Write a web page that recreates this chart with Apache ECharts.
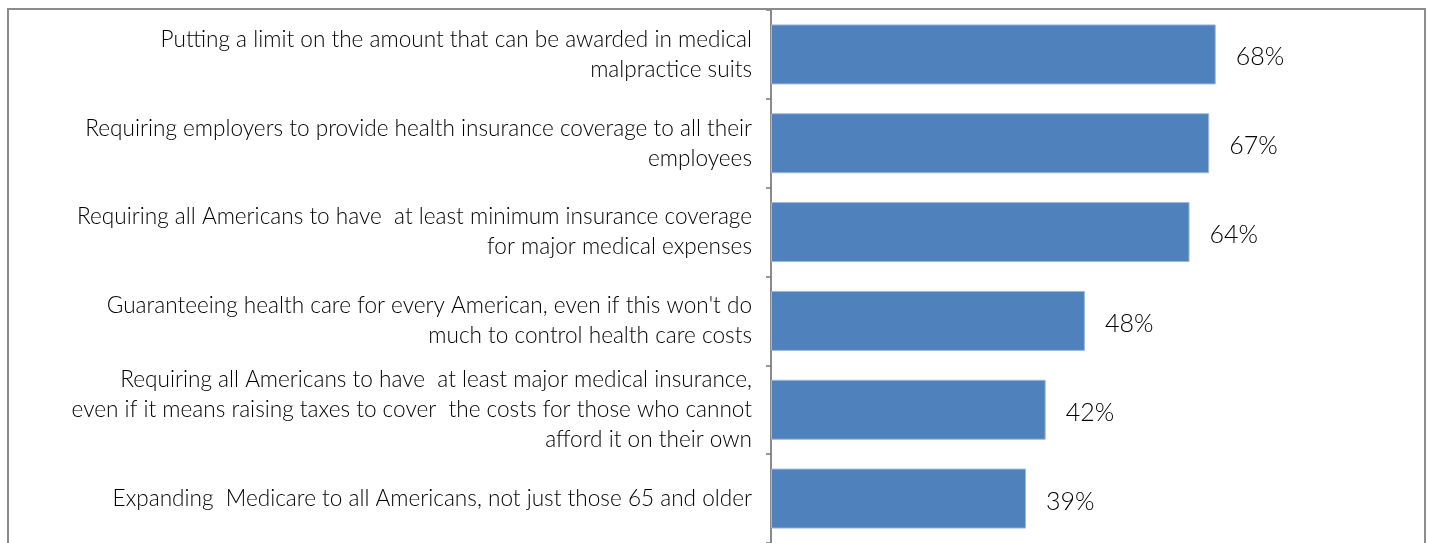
<!DOCTYPE html>
<html>
<head>
<meta charset="utf-8">
<style>
html,body{margin:0;padding:0;background:#fff;}
#chart{width:1432px;height:543px;}
</style>
<script src="https://cdn.jsdelivr.net/npm/echarts@6/dist/echarts.min.js"></script>
</head>
<body>
<div id="chart"></div>
<script>
var categories = [
  "Putting a limit on the amount that can be awarded in medical\nmalpractice suits",
  "Requiring employers to provide health insurance coverage to all their\nemployees",
  "Requiring all Americans to have  at least minimum insurance coverage\nfor major medical expenses",
  "Guaranteeing health care for every American, even if this won't do\nmuch to control health care costs",
  "Requiring all Americans to have  at least major medical insurance,\neven if it means raising taxes to cover  the costs for those who cannot\nafford it on their own",
  "Expanding  Medicare to all Americans, not just those 65 and older"
];
var values = [68, 67, 64, 48, 42, 39];

var FONT = "Lato, 'DejaVu Sans Condensed', sans-serif";
var chart = echarts.init(document.getElementById('chart'), null, {renderer: 'canvas'});
chart.setOption({
  animation: false,
  backgroundColor: '#ffffff',
  grid: {left: 771, right: 7, top: 10, height: 534, containLabel: false},
  xAxis: {
    type: 'value', min: 0, max: 100,
    show: false
  },
  yAxis: {
    type: 'category', inverse: true, data: categories,
    axisLine: {show: true, lineStyle: {color: '#8a8a8a', width: 2}},
    axisTick: {show: true, length: 5, lineStyle: {color: '#7a7a7a', width: 1.5}},
    axisLabel: {
      margin: 19, align: 'right',
      fontFamily: FONT, fontWeight: 300, fontSize: 22.6, lineHeight: 30, color: '#000000'
    },
    splitLine: {show: false}
  },
  graphic: [{
    type: 'rect', silent: true, z: 100,
    shape: {x: 8, y: 9, width: 1417, height: 545},
    style: {fill: 'none', stroke: '#8c8c8c', lineWidth: 2}
  }],
  series: [{
    type: 'bar', data: values, barWidth: 60,
    itemStyle: {color: '#4F81BD', borderColor: '#9db8dc', borderWidth: 1},
    label: {
      show: true, position: 'right', distance: 20, offset: [0, 3],
      formatter: '{c}%',
      fontFamily: FONT, fontWeight: 300, fontSize: 25, color: '#000000'
    }
  }]
});
</script>
</body>
</html>
